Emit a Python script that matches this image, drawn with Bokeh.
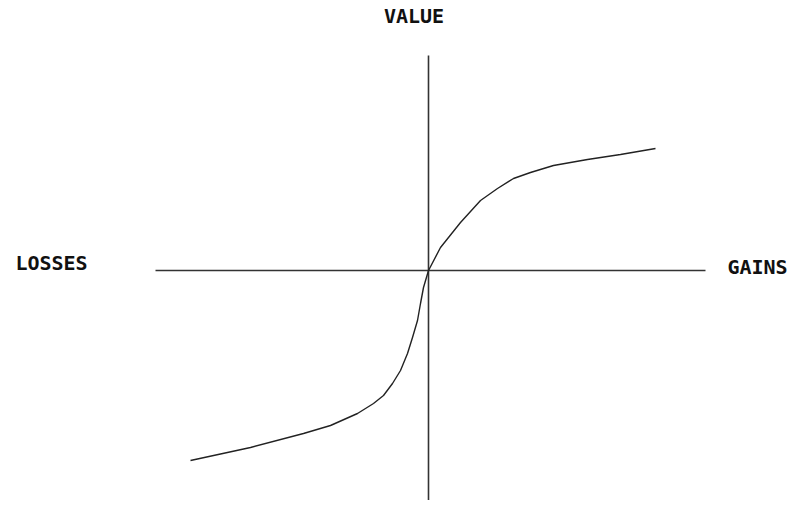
from bokeh.plotting import figure
from bokeh.models import Range1d, Label
from bokeh.embed import file_html
from bokeh.resources import INLINE

# Value function (prospect theory), in arbitrary units
loss_x = [-2.38, -1.78, -1.25, -0.98, -0.71, -0.55, -0.45, -0.36, -0.28, -0.21, -0.16, -0.11, -0.08, -0.05, 0.0]
loss_v = [-1.90, -1.77, -1.63, -1.55, -1.43, -1.33, -1.25, -1.13, -1.00, -0.83, -0.67, -0.50, -0.33, -0.17, 0.0]
gain_x = [0.0, 0.12, 0.32, 0.52, 0.69, 0.85, 1.02, 1.25, 1.59, 1.92, 2.27]
gain_v = [0.0, 0.23, 0.48, 0.70, 0.82, 0.92, 0.98, 1.05, 1.11, 1.16, 1.22]

# axis extents
h_axis_x = [-2.73, 2.77]
v_axis_y = [-2.45, 2.15]

labels = {"VALUE": (-0.145, 2.55), "LOSSES": (-3.77, 0.075), "GAINS": (3.29, 0.04)}

p = figure(width=791, height=500, output_backend="svg", toolbar_location=None,
           x_range=Range1d(-4.28, 3.63), y_range=Range1d(-2.30, 2.70),
           min_border=0, outline_line_color=None)
p.axis.visible = False
p.grid.visible = False
p.background_fill_color = "white"
p.border_fill_color = "white"

axis_color = "#333333"
p.line(h_axis_x, [0, 0], line_color=axis_color, line_width=1.6)
p.line([0, 0], v_axis_y, line_color=axis_color, line_width=1.6)

curve_color = "#222222"
p.line(loss_x, loss_v, line_color=curve_color, line_width=1.4)
p.line(gain_x, gain_v, line_color=curve_color, line_width=1.4)

for txt, (lx, ly) in labels.items():
    p.add_layout(Label(x=lx, y=ly, text=txt, text_align="center", text_baseline="middle",
                       text_font="DejaVu Sans Mono", text_font_style="bold",
                       text_font_size="20px", text_color="#111111"))

open("out.html", "w").write(file_html(p, INLINE))
